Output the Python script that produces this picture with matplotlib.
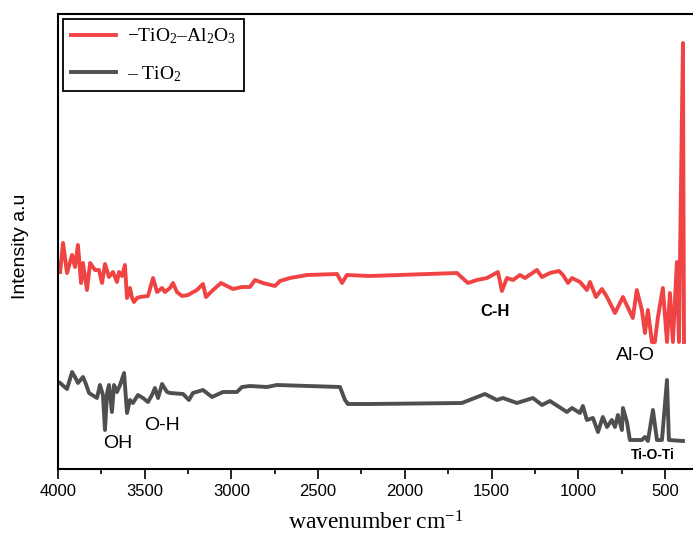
import matplotlib
matplotlib.use('Agg')
import matplotlib.pyplot as plt
from matplotlib.ticker import MultipleLocator

# FTIR spectra (wavenumber in cm-1, intensity in arbitrary units, offset traces)
wn_tio2_al2o3 = [3988, 3971, 3948, 3919, 3902, 3885, 3867, 3856, 3833, 3815, 3787, 3764,
                 3746, 3729, 3706, 3683, 3660, 3648, 3631, 3614, 3602, 3585, 3573, 3562,
                 3544, 3527, 3481, 3452, 3429, 3400, 3383, 3354, 3337, 3314, 3285, 3250,
                 3199, 3164, 3147, 3106, 3060, 3026, 2991, 2939, 2893, 2864, 2818, 2749,
                 2720, 2662, 2564, 2391, 2362, 2334, 2201, 1699, 1636, 1584, 1526, 1463,
                 1440, 1411, 1376, 1336, 1307, 1238, 1209, 1163, 1111, 1088, 1059, 1036,
                 990, 950, 932, 898, 863, 834, 788, 742, 685, 662, 633, 615, 598, 575,
                 558, 540, 512, 488, 471, 454, 431, 419, 413, 396, 390]
int_tio2_al2o3 = [197, 226, 196, 214, 202, 224, 186, 206, 179, 206, 199, 199,
                  186, 205, 192, 197, 187, 197, 193, 204, 171, 181, 171, 167,
                  171, 172, 173, 191, 177, 181, 177, 181, 186, 177, 173, 174,
                  179, 185, 172, 179, 186, 183, 180, 182, 182, 189, 186, 183,
                  188, 191, 194, 195, 186, 194, 193, 196, 186, 189, 191, 197,
                  178, 191, 189, 194, 191, 199, 192, 196, 198, 194, 186, 191,
                  187, 179, 187, 172, 180, 172, 156, 172, 151, 179, 159, 136, 159, 127,
                  127, 152, 181, 127, 176, 127, 207, 127, 209, 426, 127]

wn_tio2 = [3988, 3948, 3919, 3902, 3885, 3856, 3839, 3821, 3775, 3758, 3741, 3729,
           3717, 3706, 3689, 3677, 3660, 3642, 3619, 3602, 3585, 3568, 3539, 3510,
           3481, 3458, 3441, 3423, 3400, 3371, 3354, 3279, 3245, 3222, 3164, 3112,
           3049, 2968, 2939, 2893, 2795, 2737, 2374, 2345, 2328, 2201, 1671, 1538,
           1469, 1434, 1353, 1261, 1209, 1163, 1065, 1036, 990, 973, 950, 915, 886,
           858, 834, 806, 788, 771, 748, 742, 719, 702, 633, 615, 598, 569, 546,
           517, 488, 477, 396]
int_tio2 = [86, 80, 97, 92, 86, 92, 85, 76, 71, 84, 74, 39,
            76, 84, 57, 84, 77, 84, 96, 56, 69, 66, 74, 71,
            67, 74, 81, 71, 85, 77, 76, 75, 69, 76, 79, 72,
            77, 77, 82, 83, 82, 84, 82, 69, 65, 65, 66, 75,
            69, 71, 66, 71, 64, 68, 57, 61, 56, 63, 49, 51, 37,
            52, 42, 49, 42, 54, 39, 61, 47, 29, 29, 32, 28, 59, 29,
            29, 89, 29, 28]

# band assignments: (text, wavenumber, intensity, size, weight)
bands = [("C-H", 1480, 157, 12, 'bold'),
         ("Al-O", 667, 113, 14, 'normal'),
         ("OH", 3654, 25, 14, 'normal'),
         ("O-H", 3400, 44, 14, 'normal'),
         ("Ti-O-Ti", 570, 14, 10, 'bold')]

plt.rcParams['font.family'] = ['Liberation Sans', 'DejaVu Sans']
plt.rcParams['mathtext.fontset'] = 'custom'
plt.rcParams['mathtext.rm'] = 'Liberation Serif'
plt.rcParams['mathtext.it'] = 'Liberation Serif:italic'

fig = plt.figure(figsize=(6.93, 5.40), dpi=100)
ax = fig.add_axes([58 / 693, 71 / 540, 635 / 693, 455 / 540])

ax.plot(wn_tio2_al2o3, int_tio2_al2o3, color='#F04444', lw=2.8,
        label=r'$-\mathrm{TiO_2}$–Al$_2$O$_3$', solid_joinstyle='round')
ax.plot(wn_tio2, int_tio2, color='#4F4F4F', lw=2.8,
        label=r'– TiO$_2$', solid_joinstyle='round')

for txt, x, y, fs, fw in bands:
    ax.text(x, y, txt, fontsize=fs, fontweight=fw, ha='center', va='center')

ax.set_xlim(4000, 338)
ax.set_ylim(0, 455)
ax.xaxis.set_major_locator(MultipleLocator(500))
ax.xaxis.set_minor_locator(MultipleLocator(250))
ax.tick_params(axis='x', which='major', direction='out', length=7, width=1.2,
               labelsize=12, pad=4)
ax.tick_params(axis='x', which='minor', direction='out', length=3.5, width=1.2)
ax.tick_params(axis='y', left=False, labelleft=False)
for side in ['left', 'bottom', 'top']:
    ax.spines[side].set_linewidth(1.5)
ax.spines['right'].set_visible(False)

ax.set_xlabel(r'wavenumber cm$^{\mathregular{-1}}$', fontsize=17,
              family='Liberation Serif', labelpad=9)
ax.set_ylabel('Intensity a.u', fontsize=14)
ax.yaxis.set_label_coords(-0.046, 0.49)

leg = ax.legend(loc='upper left', bbox_to_anchor=(0.008, 0.989), borderaxespad=0,
                prop={'family': 'Liberation Serif', 'size': 14}, fancybox=False,
                framealpha=1, edgecolor='black', handlelength=2.3, handletextpad=0.6,
                borderpad=0.4, labelspacing=0.9)
leg.get_frame().set_linewidth(1.3)

fig.savefig('out.png', dpi=100)
